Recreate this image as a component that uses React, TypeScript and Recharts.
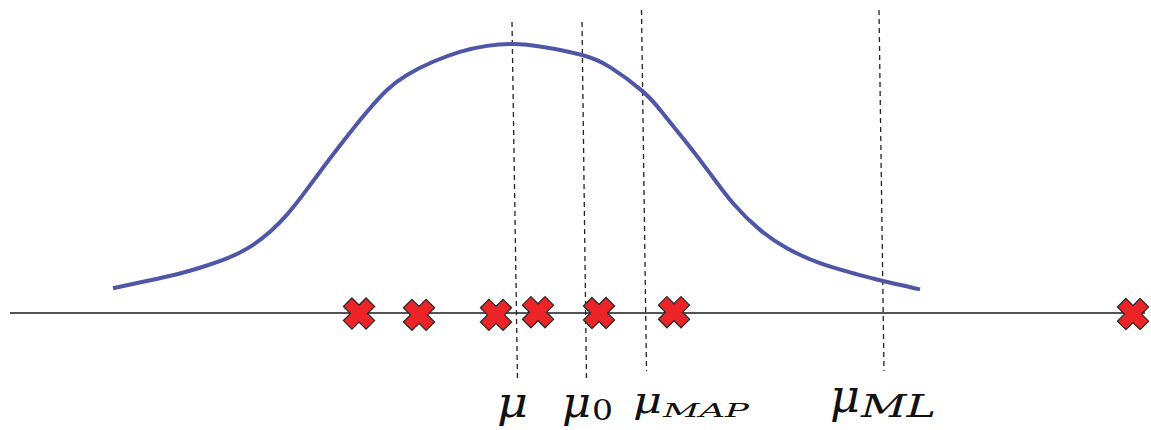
import React from "react";
import { ComposedChart, Line, Scatter, XAxis, YAxis, ReferenceLine } from "recharts";

// posterior density curve (x in arbitrary units, density normalised to 1 at its peak)
const curveX = [
  -4.0, -3.7, -3.36, -3.1, -2.86, -2.63, -2.43, -2.26, -2.1, -1.9, -1.66, -1.46, -1.26, -1.06, -0.8,
  -0.53, -0.26, 0, 0.3, 0.69, 0.97, 1.3, 1.5, 1.74, 1.97, 2.2, 2.47, 2.74, 3.07, 3.4, 3.69, 4.07,
];
const curveY = [
  0.092, 0.116, 0.144, 0.172, 0.203, 0.246, 0.302, 0.366, 0.44, 0.54, 0.656, 0.748, 0.829, 0.885, 0.934,
  0.971, 0.993, 1.0, 0.989, 0.959, 0.914, 0.823, 0.742, 0.631, 0.519, 0.408, 0.309, 0.241, 0.185, 0.148, 0.12, 0.088,
];

// observed samples
const sampleX = [-1.54, -0.94, -0.17, 0.25, 0.86, 1.61, 6.2];
const sampleY = [-0.002, -0.007, -0.007, 0.003, 0.0, 0.003, -0.004];

// the number line
const axisX = [-5.03, 6.32];

// estimates: dashed guides (top -> bottom, slightly slanted)
const guideNames = ["mu", "mu0", "muMAP", "muML"];
const guideTopX = [-0.01, 0.69, 1.285, 3.66];
const guideTopY = [1.082, 1.082, 1.126, 1.126];
const guideBotX = [0.045, 0.735, 1.335, 3.71];
const guideBotY = [-0.253, -0.253, -0.216, -0.216];

// labels under the guides
const labelMain = ["μ", "μ", "μ", "μ"];
const labelSub = ["", "0", "MAP", "ML"];
const labelX = [-0.16, 0.49, 1.2, 3.17];
const labelY = [-0.387, -0.387, -0.372, -0.368];

const curveData = curveX.map((u, i) => ({ u, v: curveY[i] }));
const sampleData = sampleX.map((u, i) => ({ u, v: sampleY[i] }));
const labelData = labelX.map((u, i) => ({ u, v: labelY[i], main: labelMain[i], sub: labelSub[i], idx: i }));

const BLUE = "#5056a6";
const RED = "#ec2428";

function Cross(props: any) {
  const { cx, cy } = props;
  if (cx == null || cy == null) return null;
  const L = 16;
  const w = 6;
  const pts = [
    [w, -L], [w, -w], [L, -w], [L, w], [w, w], [w, L],
    [-w, L], [-w, w], [-L, w], [-L, -w], [-w, -w], [-w, -L],
  ];
  const c = Math.SQRT1_2;
  const d = pts
    .map(([x, y], i) => `${i ? "L" : "M"}${(cx + (x - y) * c).toFixed(2)},${(cy + (x + y) * c).toFixed(2)}`)
    .join(" ") + " Z";
  return <path d={d} fill={RED} stroke="#2a2a2a" strokeWidth={1.3} strokeLinejoin="miter" />;
}

// label typography (TeX-like proportions)
const mainSize = [42, 42, 35, 46];
const mainLen = [31, 29, 29, 30];
const subSize = [0, 27, 19, 32];
const subLen = [0, 21, 86, 75];
const subDy = [0, 3, 4, 5];

function MathLabel(props: any) {
  const { cx, cy, payload } = props;
  if (cx == null || cy == null) return null;
  const i = payload.idx;
  const upright = /^[0-9]+$/.test(payload.sub);
  return (
    <g fill="#111" fontFamily="'DejaVu Serif', serif">
      <text
        x={cx}
        y={cy}
        fontStyle="italic"
        fontSize={mainSize[i]}
        textLength={mainLen[i]}
        lengthAdjust="spacingAndGlyphs"
      >
        {payload.main}
      </text>
      {payload.sub ? (
        <text
          x={cx + mainLen[i] + 1}
          y={cy + subDy[i]}
          fontStyle={upright ? "normal" : "italic"}
          fontSize={subSize[i]}
          textLength={subLen[i]}
          lengthAdjust="spacingAndGlyphs"
        >
          {payload.sub}
        </text>
      ) : null}
    </g>
  );
}

export default function App() {
  return (
    <div style={{ position: "absolute", left: 0, top: 0, background: "#fff" }}>
      <ComposedChart width={1151} height={430} margin={{ top: 0, right: 0, bottom: 0, left: 0 }}>
        <XAxis type="number" dataKey="u" domain={[-5.13, 6.38]} hide allowDataOverflow />
        <YAxis type="number" dataKey="v" domain={[-0.4349, 1.1636]} hide allowDataOverflow />
        <ReferenceLine
          segment={[
            { x: axisX[0], y: 0 },
            { x: axisX[1], y: 0 },
          ]}
          stroke="#1a1a1a"
          strokeWidth={1.3}
          ifOverflow="visible"
        />
        {guideNames.map((name, i) => (
          <ReferenceLine
            key={name}
            segment={[
              { x: guideTopX[i], y: guideTopY[i] },
              { x: guideBotX[i], y: guideBotY[i] },
            ]}
            stroke="#222"
            strokeWidth={1.3}
            strokeDasharray="5 4"
            ifOverflow="visible"
          />
        ))}
        <Line
          data={curveData}
          dataKey="v"
          type="natural"
          stroke={BLUE}
          strokeWidth={4}
          dot={false}
          activeDot={false}
          legendType="none"
          isAnimationActive={false}
        />
        <Scatter data={sampleData} dataKey="v" shape={<Cross />} isAnimationActive={false} />
        <Scatter data={labelData} dataKey="v" shape={<MathLabel />} isAnimationActive={false} />
      </ComposedChart>
    </div>
  );
}
